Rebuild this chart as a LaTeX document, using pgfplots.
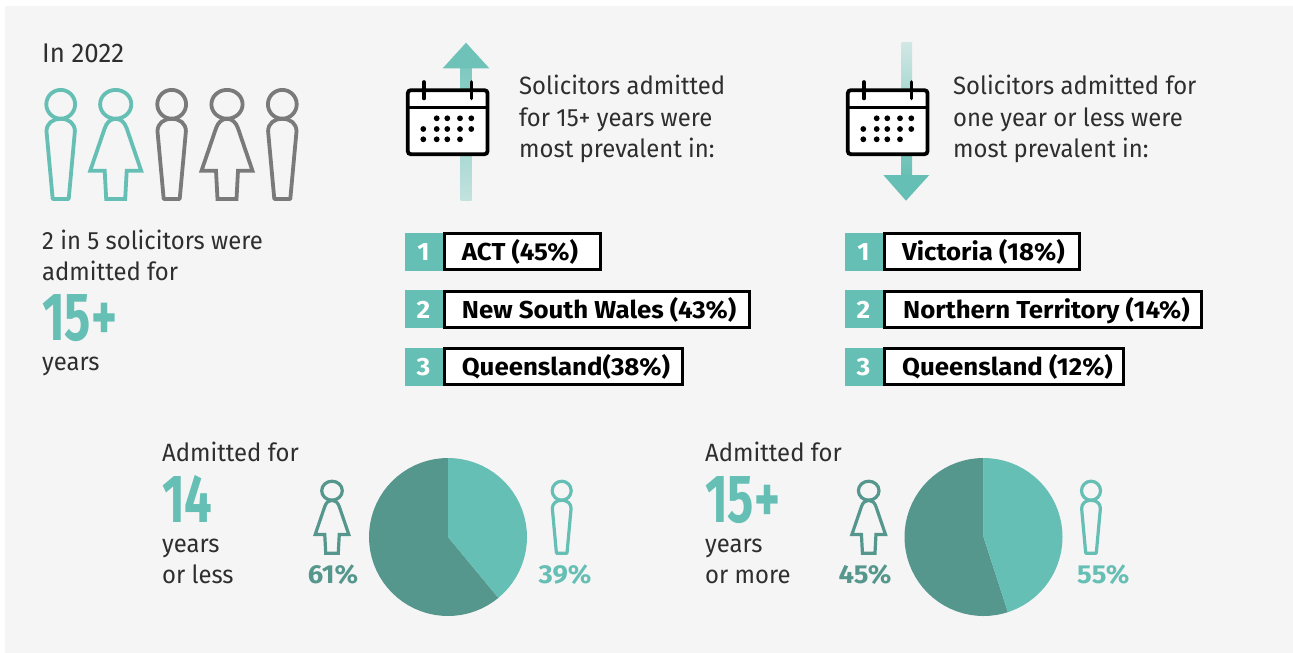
\documentclass[border=0pt]{standalone}
\usepackage{fontspec}
\usepackage{pgfplots}
\usepgfplotslibrary{polar}
\pgfplotsset{compat=1.18}
\setmainfont{Fira Sans}[FakeStretch=0.955,BoldFeatures={FakeStretch=1.055}]
\newfontfamily\bignum{Fira Sans}[BoldFeatures={FakeStretch=0.72}]
\definecolor{panel}{HTML}{F5F5F5}
\definecolor{ink}{HTML}{2E2E2E}
\definecolor{tealL}{HTML}{66BFB4}
\definecolor{tealD}{HTML}{55968D}
\definecolor{grayP}{HTML}{7A7A7A}

% head centre (cx,cy), scale, colour, line width
\newcommand\man[5]{\begin{scope}[shift={(#1,#2)},scale=#3,draw=#4,line width=#5,line join=round]
  \draw (0,0) circle[radius=14.4];
  \draw (-8,94.7) -- (-14.2,27) .. controls (-14.2,19) and (-8,14.5) .. (0,14.5)
    .. controls (8,14.5) and (14.2,19) .. (14.2,27) -- (8,94.7) -- cycle;
\end{scope}}
\newcommand\woman[5]{\begin{scope}[shift={(#1,#2)},scale=#3,draw=#4,line width=#5,line join=miter]
  \draw (0,0) ellipse[x radius=15.6,y radius=14.4];
  \draw (-9.5,94.7) -- (-11,66.5) -- (-25.5,66.5) -- (-11,24) .. controls (-9,18) and (-5,14.5) .. (0,14.5)
    .. controls (5,14.5) and (9,18) .. (11,24) -- (25.5,66.5) -- (11,66.5) -- (9.5,94.7) -- cycle;
\end{scope}}
\newcommand\calicon[1]{\begin{scope}[xshift=#1]
  \draw[black,fill=white,line width=3.8pt,rounded corners=3pt] (407.8,90.2) rectangle (487.5,154.2);
  \draw[black,line width=3.4pt] (407.8,107.3) -- (487.5,107.3);
  \draw[black,line width=3.6pt,line cap=round] (424,82) -- (424,98.5) (471.3,82) -- (471.3,98.5);
  \foreach \x in {436.7,447.3,460,471.3} \fill[black] (\x,118.3) circle[radius=2.9];
  \foreach \x in {423.3,436.7,447.3,460,471.3} \fill[black] (\x,129) circle[radius=2.9];
  \foreach \x in {423.3,436.7,447.3,460} \fill[black] (\x,139.3) circle[radius=2.9];
\end{scope}}
% text at x, baseline y
\newcommand\body[3]{\node[anchor=base west,inner sep=0pt,text=ink,font=\fontsize{25}{30}\selectfont] at (#1,#2) {#3};}
\newcommand\bignumber[3]{\node[anchor=base west,inner sep=0pt,text=tealL,font=\fontsize{68}{70}\selectfont\bignum\bfseries] at (#1,#2) {#3};}
% rank badge: x left, y top, right edge of box, number, label
\newcommand\rank[6]{
  \fill[tealL] (#1,#2) rectangle ++(39.5,38);
  \draw[black,fill=white,line width=2.6pt] (#1+39.5,#2+1) rectangle (#3,#2+37);
  \node[anchor=base,inner sep=0pt,text=white,font=\fontsize{25}{26}\selectfont\bfseries] at (#1+18.5,#2+28) {#4};
  \node[anchor=base west,inner sep=0pt,text=black,font=\fontsize{24.5}{28}\selectfont\bfseries] at (#5,#2+28) {#6};
}
\newcommand\pct[4]{\node[anchor=base,inner sep=0pt,text=#4,font=\fontsize{26}{28}\selectfont\bfseries] at (#1,#2) {#3};}

\pgfplotsset{pie/.style={hide axis,scale only axis,width=158pt,height=158pt,
  xmin=0,xmax=360,ymin=0,ymax=79,clip=false,anchor=center}}

\begin{document}
\begin{tikzpicture}[x=1pt,y=-1pt]
\useasboundingbox (0,0) rectangle (1293,653);
\fill[white] (0,0) rectangle (1293,653);
\fill[panel] (5,6) rectangle (1293,653);

% left column
\node[anchor=base west,inner sep=0pt,text=ink,font=\fontsize{27}{30}\selectfont] at (42,62.7) {In 2022};
\man{60.7}{104.3}{1}{tealL}{3.8pt}
\woman{115.7}{104.3}{1}{tealL}{3.8pt}
\man{171.7}{104.3}{1}{grayP}{3.8pt}
\woman{227}{104.3}{1}{grayP}{3.8pt}
\man{282.3}{104.3}{1}{grayP}{3.8pt}
\body{42}{249.3}{2 in 5 solicitors were}
\body{42}{280}{admitted for}
\bignumber{42}{340}{15+}
\body{42}{370}{years}

% arrows and calendars
\shade[top color=tealL!85!white,bottom color=tealL!35!panel] (460.7,66) rectangle (471.7,200.7);
\fill[tealL!95!white] (466,42.7) -- (489.3,68.3) -- (442.7,68.3) -- cycle;
\shade[top color=tealL!25!panel,bottom color=tealL] (901.7,42.7) rectangle (912,177);
\fill[tealL] (906,200.7) -- (929.3,175) -- (883.3,175) -- cycle;
\calicon{0pt}
\calicon{440pt}

\body{519}{94.3}{Solicitors admitted}
\body{519}{126}{for 15+ years were}
\body{519}{157.3}{most prevalent in:}
\body{953}{94.3}{Solicitors admitted for}
\body{953}{126}{one year or less were}
\body{953}{157.3}{most prevalent in:}

% rankings
\rank{405}{232.7}{600.7}{1}{461.7}{ACT (45\%)}
\rank{405}{290.2}{749.3}{2}{461.7}{New South Wales (43\%)}
\rank{405}{347.7}{682.7}{3}{461.7}{Queensland(38\%)}
\rank{845}{232.7}{1079.3}{1}{902}{Victoria (18\%)}
\rank{845}{290.2}{1201.7}{2}{903}{Northern Territory (14\%)}
\rank{845}{347.7}{1123.3}{3}{902}{Queensland (12\%)}

% lower row
\body{162}{461}{Admitted for}
\bignumber{162}{522}{14}
\body{162}{552.7}{years}
\body{162}{583.3}{or less}
\woman{332}{490.7}{0.66}{tealD}{3.2pt}
\man{561.7}{490.7}{0.66}{tealL}{3.2pt}
\pct{333}{583.3}{61\%}{tealD}
\pct{565}{583.3}{39\%}{tealL}

\body{705}{461}{Admitted for}
\bignumber{705}{522}{15+}
\body{705}{552.7}{years}
\body{705}{583.3}{or more}
\woman{868.7}{490.7}{0.66}{tealD}{3.2pt}
\man{1091}{490.7}{0.66}{tealL}{3.2pt}
\pct{865}{583.3}{45\%}{tealD}
\pct{1103.3}{583.3}{55\%}{tealL}

% pies: angle, radius; clockwise from the top, light slice first
\begin{polaraxis}[pie,at={(448pt,-537pt)}]
\addplot[fill=tealD,draw=none] coordinates {(0,0)(90,79)(95,79)(100,79)(105,79)(110,79)(115,79)(120,79)(125,79)(130,79)(135,79)(140,79)(145,79)(150,79)(155,79)(160,79)(165,79)(170,79)(175,79)(180,79)(185,79)(190,79)(195,79)(200,79)(205,79)(210,79)(215,79)(220,79)(225,79)(230,79)(235,79)(240,79)(245,79)(250,79)(255,79)(260,79)(265,79)(270,79)(275,79)(280,79)(285,79)(290,79)(295,79)(300,79)(305,79)(309.6,79)} -- cycle;
\addplot[fill=tealL,draw=none] coordinates {(0,0)(309.6,79)(315,79)(320,79)(325,79)(330,79)(335,79)(340,79)(345,79)(350,79)(355,79)(360,79)(365,79)(370,79)(375,79)(380,79)(385,79)(390,79)(395,79)(400,79)(405,79)(410,79)(415,79)(420,79)(425,79)(430,79)(435,79)(440,79)(445,79)(450,79)} -- cycle;
\end{polaraxis}
\begin{polaraxis}[pie,at={(983.5pt,-537pt)}]
\addplot[fill=tealD,draw=none] coordinates {(0,0)(90,79)(95,79)(100,79)(105,79)(110,79)(115,79)(120,79)(125,79)(130,79)(135,79)(140,79)(145,79)(150,79)(155,79)(160,79)(165,79)(170,79)(175,79)(180,79)(185,79)(190,79)(195,79)(200,79)(205,79)(210,79)(215,79)(220,79)(225,79)(230,79)(235,79)(240,79)(245,79)(250,79)(255,79)(260,79)(265,79)(270,79)(275,79)(280,79)(285,79)(288,79)} -- cycle;
\addplot[fill=tealL,draw=none] coordinates {(0,0)(288,79)(290,79)(295,79)(300,79)(305,79)(310,79)(315,79)(320,79)(325,79)(330,79)(335,79)(340,79)(345,79)(350,79)(355,79)(360,79)(365,79)(370,79)(375,79)(380,79)(385,79)(390,79)(395,79)(400,79)(405,79)(410,79)(415,79)(420,79)(425,79)(430,79)(435,79)(440,79)(445,79)(450,79)} -- cycle;
\end{polaraxis}
\end{tikzpicture}
\end{document}
